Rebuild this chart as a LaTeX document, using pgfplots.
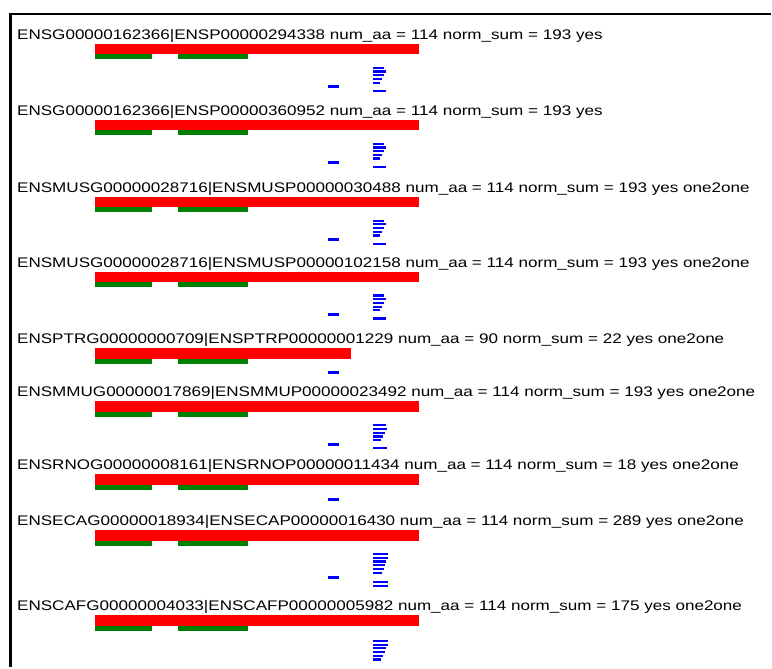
\documentclass[border=0pt]{standalone}
\usepackage{pgfplots}
\pgfplotsset{compat=1.18}
\usepackage{fontspec}
\setmainfont{Liberation Sans}
\definecolor{bred}{RGB}{255,0,0}
\definecolor{bgreen}{RGB}{0,128,0}
\definecolor{bblue}{RGB}{0,0,255}
\newcommand{\lbl}[3]{\node[anchor=base west, inner sep=0pt, font=\fontsize{14}{16}\selectfont] at (axis cs:#1,#2) {\scalebox{1.225}[1]{#3}};}
\begin{document}
\begin{tikzpicture}
\begin{axis}[width=772bp, height=668bp, scale only axis,
  xmin=0, xmax=772, ymin=0, ymax=668, y dir=reverse,
  hide axis, clip=false, unbounded coords=jump]
% invisible extent
\addplot[draw=none, forget plot] coordinates {(0,0)(772,668)};
% frame
\addplot[black, line width=2.4bp] coordinates {(772,14)(10.5,14)(10.5,668)};
% red bars (protein length)
\addplot[bred, line width=10.5bp] coordinates {
(95,49.25)(420,49.25)(nan,nan)
(95,125.25)(420,125.25)(nan,nan)
(95,202.25)(420,202.25)(nan,nan)
(95,277.25)(420,277.25)(nan,nan)
(95,354.25)(352,354.25)(nan,nan)
(95,407.25)(420,407.25)(nan,nan)
(95,480.25)(420,480.25)(nan,nan)
(95,536.25)(420,536.25)(nan,nan)
(95,621.25)(420,621.25)};
% green domains
\addplot[bgreen, line width=5bp] coordinates {
(95,57)(152,57)(nan,nan)(178,57)(248,57)(nan,nan)
(95,133)(152,133)(nan,nan)(178,133)(248,133)(nan,nan)
(95,210)(152,210)(nan,nan)(178,210)(248,210)(nan,nan)
(95,285)(152,285)(nan,nan)(178,285)(248,285)(nan,nan)
(95,362)(152,362)(nan,nan)(178,362)(248,362)(nan,nan)
(95,415)(152,415)(nan,nan)(178,415)(248,415)(nan,nan)
(95,488)(152,488)(nan,nan)(178,488)(248,488)(nan,nan)
(95,544)(152,544)(nan,nan)(178,544)(248,544)(nan,nan)
(95,629)(152,629)(nan,nan)(178,629)(248,629)};
% single blue dashes
\addplot[bblue, line width=3.2bp] coordinates {
(329,87)(340,87)(nan,nan)
(329,163)(340,163)(nan,nan)
(329,240)(340,240)(nan,nan)
(329,315)(340,315)(nan,nan)
(329,373)(340,373)(nan,nan)
(329,445)(340,445)(nan,nan)
(329,500)(340,500)(nan,nan)
(329,578)(340,578)};
% blue stacks
\addplot[bblue, line width=2.2bp] coordinates {
(374,68)(385,68)(nan,nan)(374,71.7)(387,71.7)(nan,nan)(374,75.4)(385,75.4)(nan,nan)(374,79.1)(383,79.1)(nan,nan)(374,82.8)(381,82.8)(nan,nan)(374,91)(387,91)(nan,nan)
(374,144)(385,144)(nan,nan)(374,147.7)(387,147.7)(nan,nan)(374,151.4)(385,151.4)(nan,nan)(374,155.1)(383,155.1)(nan,nan)(374,158.8)(381,158.8)(nan,nan)(374,167)(387,167)(nan,nan)
(374,221)(385,221)(nan,nan)(374,224.7)(387,224.7)(nan,nan)(374,228.4)(385,228.4)(nan,nan)(374,232.1)(383,232.1)(nan,nan)(374,235.8)(381,235.8)(nan,nan)(374,244)(387,244)(nan,nan)
(374,296)(385,296)(nan,nan)(374,299.7)(387,299.7)(nan,nan)(374,303.4)(385,303.4)(nan,nan)(374,307.1)(383,307.1)(nan,nan)(374,310.8)(381,310.8)(nan,nan)(374,319)(387,319)(nan,nan)
(374,426)(387,426)(nan,nan)(374,429.7)(388,429.7)(nan,nan)(374,433.4)(386,433.4)(nan,nan)(374,437.1)(384,437.1)(nan,nan)(374,440.8)(382,440.8)(nan,nan)(374,449)(388,449)(nan,nan)
(374,555)(389,555)(nan,nan)(374,558.7)(389,558.7)(nan,nan)(374,562.4)(387,562.4)(nan,nan)(374,566.1)(386,566.1)(nan,nan)(374,569.8)(385,569.8)(nan,nan)(374,573.5)(383,573.5)(nan,nan)(374,583)(389,583)(nan,nan)(374,587)(389,587)(nan,nan)
(374,642)(389,642)(nan,nan)(374,645.7)(389,645.7)(nan,nan)(374,649.4)(387,649.4)(nan,nan)(374,653.1)(386,653.1)(nan,nan)(374,656.8)(384,656.8)(nan,nan)(374,660.5)(382,660.5)};
% labels
\lbl{17}{39.5}{ENSG00000162366|ENSP00000294338 num\_aa = 114 norm\_sum = 193 yes}
\lbl{17}{115.5}{ENSG00000162366|ENSP00000360952 num\_aa = 114 norm\_sum = 193 yes}
\lbl{17}{192.5}{ENSMUSG00000028716|ENSMUSP00000030488 num\_aa = 114 norm\_sum = 193 yes one2one}
\lbl{17}{267.5}{ENSMUSG00000028716|ENSMUSP00000102158 num\_aa = 114 norm\_sum = 193 yes one2one}
\lbl{17}{344.5}{ENSPTRG00000000709|ENSPTRP00000001229 num\_aa = 90 norm\_sum = 22 yes one2one}
\lbl{17}{397.5}{ENSMMUG00000017869|ENSMMUP00000023492 num\_aa = 114 norm\_sum = 193 yes one2one}
\lbl{17}{470.5}{ENSRNOG00000008161|ENSRNOP00000011434 num\_aa = 114 norm\_sum = 18 yes one2one}
\lbl{17}{526.5}{ENSECAG00000018934|ENSECAP00000016430 num\_aa = 114 norm\_sum = 289 yes one2one}
\lbl{17}{611.5}{ENSCAFG00000004033|ENSCAFP00000005982 num\_aa = 114 norm\_sum = 175 yes one2one}
\end{axis}
\end{tikzpicture}
\end{document}
